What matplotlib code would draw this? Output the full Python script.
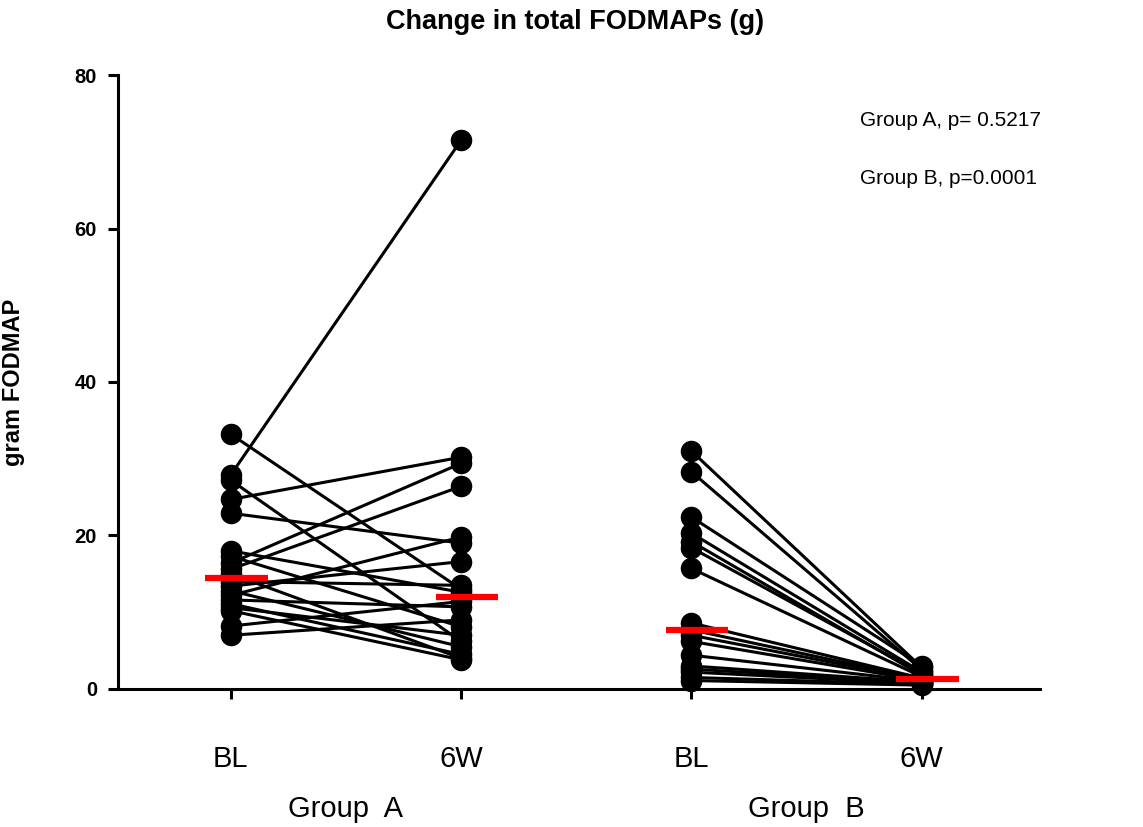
import numpy as np
import matplotlib
matplotlib.use("Agg")
import matplotlib.pyplot as plt

plt.rcParams['font.family'] = ['Liberation Sans', 'DejaVu Sans']

# paired values, gram FODMAP per subject
group_a_bl = [27.9, 33.2, 27.2, 24.7, 22.9, 18.0, 17.3, 16.4, 15.6, 15.0,
              14.0, 13.4, 12.8, 12.2, 11.6, 11.1, 10.6, 10.2, 8.2, 7.0]
group_a_6w = [71.5, 13.0, 6.2, 30.2, 19.0, 12.6, 8.1, 29.4, 26.4, 4.0,
              13.5, 16.6, 5.5, 19.8, 10.7, 4.5, 7.0, 3.8, 11.4, 9.0]
group_b_bl = [31.0, 28.3, 22.4, 20.3, 19.2, 18.4, 15.7, 8.6, 7.7, 7.0,
              6.2, 4.4, 3.0, 2.6, 2.2, 1.5, 1.1]
group_b_6w = [2.8, 2.5, 3.0, 2.2, 1.8, 2.0, 1.6, 1.4, 1.3, 1.2,
              1.1, 1.0, 0.9, 0.8, 0.7, 0.6, 0.5]

tick_labels = ['BL', '6W', 'BL', '6W']
group_labels = ['Group  A', 'Group  B']
p_texts = ['Group A, p= 0.5217', 'Group B, p=0.0001']

fig = plt.figure(figsize=(11.43, 8.27), dpi=100)
ax = fig.add_axes([0.1032, 0.1669, 0.8066, 0.7424])

pairs = [(0, group_a_bl, group_a_6w), (2, group_b_bl, group_b_6w)]
for x0, before, after in pairs:
    for a, b in zip(before, after):
        ax.plot([x0, x0 + 1], [a, b], '-o', color='black', lw=2.2,
                markersize=14.5, clip_on=False, zorder=3)
    # median bars
    for xi, vals in [(x0, before), (x0 + 1, after)]:
        m = np.median(vals)
        ax.plot([xi - 0.11, xi + 0.16], [m, m], color='#ff0000', lw=4.5,
                solid_capstyle='butt', clip_on=False, zorder=5)

ax.set_xlim(-0.49, 3.513)
ax.set_ylim(0, 80)
ax.set_yticks([0, 20, 40, 60, 80])
ax.set_xticks([0, 1, 2, 3])
ax.set_xticklabels(tick_labels, fontsize=21)
for lbl in ax.get_yticklabels():
    lbl.set_fontsize(14.5)
    lbl.set_fontweight('bold')

ax.spines['top'].set_visible(False)
ax.spines['right'].set_visible(False)
ax.spines['left'].set_linewidth(2.2)
ax.spines['bottom'].set_linewidth(2.2)
ax.tick_params(axis='y', width=2.2, length=7, pad=8)
ax.tick_params(axis='x', width=2.2, length=7, pad=33)

ax.set_ylabel('gram FODMAP', fontsize=17, fontweight='bold', labelpad=36)

fig.text(575 / 1143, 1 - 22 / 827, 'Change in total FODMAPs (g)',
         ha='center', va='center', fontsize=19.5, fontweight='bold')

# group labels under tick pairs
for i, g in enumerate(group_labels):
    ax.text(2 * i + 0.5, -0.195, g, transform=ax.get_xaxis_transform(),
            ha='center', va='center', fontsize=21)

fig.text(860 / 1143, 1 - 120 / 827, p_texts[0], ha='left', va='center', fontsize=15)
fig.text(860 / 1143, 1 - 178 / 827, p_texts[1], ha='left', va='center', fontsize=15)

fig.savefig('out.png', dpi=100)
